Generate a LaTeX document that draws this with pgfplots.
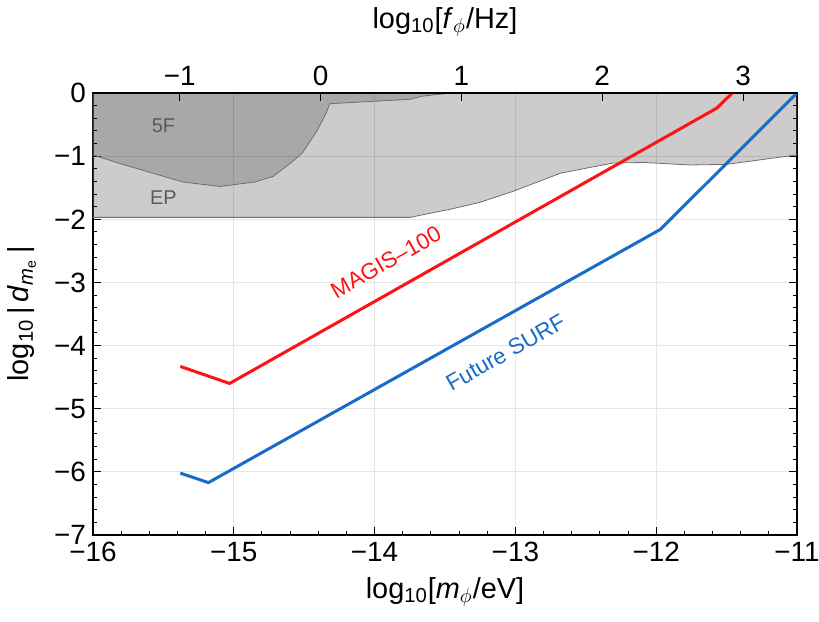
\documentclass[border=0pt]{standalone}
\usepackage{fontspec}
\setmainfont{Liberation Sans}
\usepackage{pgfplots}
\pgfplotsset{compat=1.18}
\definecolor{myred}{RGB}{255,18,18}
\definecolor{myblue}{RGB}{24,108,200}
\definecolor{labgray}{RGB}{90,90,90}
\definecolor{edgegray}{RGB}{110,110,110}
\newcommand{\phisub}{\textsubscript{$\phi$}}
\begin{document}
\begin{tikzpicture}
\begin{axis}[
  scale only axis, width=352bp, height=221bp,
  xmin=-16, xmax=-11, ymin=-7, ymax=0,
  xtick={-16,-15,-14,-13,-12,-11},
  xticklabels={−16,−15,−14,−13,−12,−11},
  ytick={-7,-6,-5,-4,-3,-2,-1,0},
  yticklabels={−7,−6,−5,−4,−3,−2,−1,0},
  minor x tick num=4, minor y tick num=4,
  xtick pos=left, ytick pos=both,
  tick align=inside,
  major tick length=4bp, minor tick length=2.2bp,
  grid=major, major grid style={black!10, line width=0.4bp},
  every tick/.style={black, line width=0.5bp},
  axis line style={line width=0.6bp},
  ticklabel style={font=\fontsize{14}{16}\selectfont},
  label style={font=\fontsize{14.5}{17}\selectfont},
  xlabel={log\textsubscript{10}[\textit{m}\phisub/eV]},
  xlabel style={at={(axis description cs:0.5,-0.129)}, anchor=center},
  ylabel={log\textsubscript{10}\,|\,\textit{d}\textsubscript{\textit{m}\textsubscript{e}}\,|},
  ylabel style={at={(axis description cs:-0.101,0.5)}, anchor=center},
]
\coordinate (bl) at (rel axis cs:0,0);
\coordinate (tr) at (rel axis cs:1,1);
% EP region
\addplot[fill=black, fill opacity=0.2, draw=edgegray, line width=0.4bp] coordinates {
 (-16,0) (-16,-1.97) (-13.75,-1.97) (-13.46,-1.84) (-13.25,-1.73) (-13.02,-1.56)
 (-12.68,-1.27) (-12.31,-1.11) (-12.09,-1.10) (-11.76,-1.14) (-11.50,-1.13)
 (-11.0,-0.98) (-11,0)} -- cycle;
% 5F region
\addplot[fill=black, fill opacity=0.176, draw=edgegray, line width=0.4bp] coordinates {
 (-16,0) (-16,-0.98) (-15.79,-1.13) (-15.36,-1.41) (-15.10,-1.48) (-14.85,-1.41)
 (-14.72,-1.32) (-14.58,-1.08) (-14.51,-0.94) (-14.41,-0.60) (-14.34,-0.30)
 (-14.32,-0.17) (-13.75,-0.10) (-13.66,-0.05) (-13.46,0)} -- cycle;
% MAGIS-100
\addplot[myred, line width=1.5bp] coordinates {
 (-15.38,-4.33) (-15.03,-4.60) (-11.57,-0.24) (-11.46,0)};
% Future SURF
\addplot[myblue, line width=1.5bp] coordinates {
 (-15.38,-6.02) (-15.18,-6.17) (-11.97,-2.16) (-11,0)};
\node[rotate=29.5, text=myred, font=\fontsize{11.3}{13}\selectfont] at (axis cs:-13.92,-2.68) {MAGIS–100};
\node[rotate=29.5, text=myblue, font=\fontsize{11.3}{13}\selectfont] at (axis cs:-13.07,-4.11) {Future SURF};
\node[text=labgray, font=\fontsize{10}{12}\selectfont] at (axis cs:-15.5,-0.52) {5F};
\node[text=labgray, font=\fontsize{10}{12}\selectfont] at (axis cs:-15.5,-1.65) {EP};
\end{axis}
\begin{axis}[
  scale only axis, width=352bp, height=221bp,
  xmin=-1.6165, xmax=3.3835, ymin=-7, ymax=0,
  axis x line*=top, hide y axis,
  xtick={-1,0,1,2,3}, xticklabels={−1,0,1,2,3},
  tick align=inside, major tick length=4bp,
  every tick/.style={black, line width=0.5bp},
  axis line style={line width=0.6bp},
  ticklabel style={font=\fontsize{14}{16}\selectfont},
  label style={font=\fontsize{14.5}{17}\selectfont},
  xlabel={log\textsubscript{10}[\textit{f}\phisub/Hz]},
  xlabel style={at={(axis description cs:0.5,1.161)}, anchor=center},
]
\end{axis}
\pgfresetboundingbox
\path ([shift={(-46.5bp,-43.5bp)}]bl) rectangle ([shift={(11bp,46.5bp)}]tr);
\end{tikzpicture}
\end{document}
